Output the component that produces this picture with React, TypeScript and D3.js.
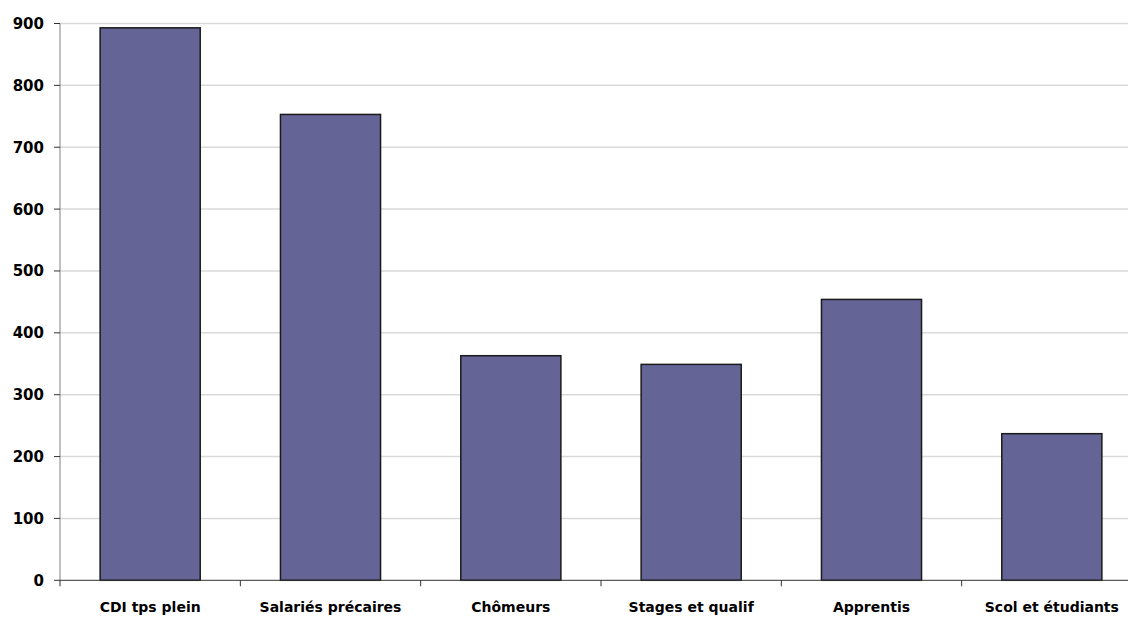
import React from "react";
import * as d3 from "d3";

const categories = ["CDI tps plein", "Salariés précaires", "Chômeurs", "Stages et qualif", "Apprentis", "Scol et étudiants"];
const values = [893, 753, 363, 349, 454, 237];
const yTicks = [0, 100, 200, 300, 400, 500, 600, 700, 800, 900];

export default function App() {
  const W = 1128, H = 619;
  const left = 60, right = 1142, top = 23.5, bottom = 580.3;
  const x = d3.scaleBand<string>().domain(categories).range([left, right]).paddingInner(0.445).paddingOuter(0.2225);
  const y = d3.scaleLinear().domain([0, 900]).range([bottom, top]);
  const step = x.step();
  const font = "'DejaVu Sans', sans-serif";
  return (
    <svg width={W} height={H} style={{ position: "absolute", left: 0, top: 0, background: "#fff" }}>
      {yTicks.map(t => t > 0 && (
        <line key={"g" + t} x1={left} x2={W} y1={y(t)} y2={y(t)} stroke="#d9d9d9" strokeWidth={1.5} />
      ))}
      {categories.map((c, i) => (
        <rect key={c} x={x(c)!} y={y(values[i])} width={x.bandwidth()} height={bottom - y(values[i])}
          fill="#646496" stroke="#1a1a1a" strokeWidth={1.5} />
      ))}
      <line x1={left} x2={left} y1={top} y2={bottom} stroke="#808080" strokeWidth={1} />
      <line x1={left} x2={W} y1={bottom} y2={bottom} stroke="#333" strokeWidth={1} />
      {yTicks.map(t => (
        <g key={"t" + t}>
          <line x1={left - 6} x2={left} y1={y(t)} y2={y(t)} stroke="#333" strokeWidth={1} />
          <text x={44} y={y(t)} dy="0.36em" textAnchor="end" fontFamily={font} fontWeight="bold" fontSize={15} fill="#000">{t}</text>
        </g>
      ))}
      {d3.range(0, 7).map(i => (
        <line key={"xt" + i} x1={left + i * step} x2={left + i * step} y1={bottom} y2={bottom + 6} stroke="#333" strokeWidth={1} />
      ))}
      {categories.map(c => (
        <text key={"l" + c} x={x(c)! + x.bandwidth() / 2} y={612} textAnchor="middle" fontFamily={font} fontWeight="bold" fontSize={14} fill="#000">{c}</text>
      ))}
    </svg>
  );
}
